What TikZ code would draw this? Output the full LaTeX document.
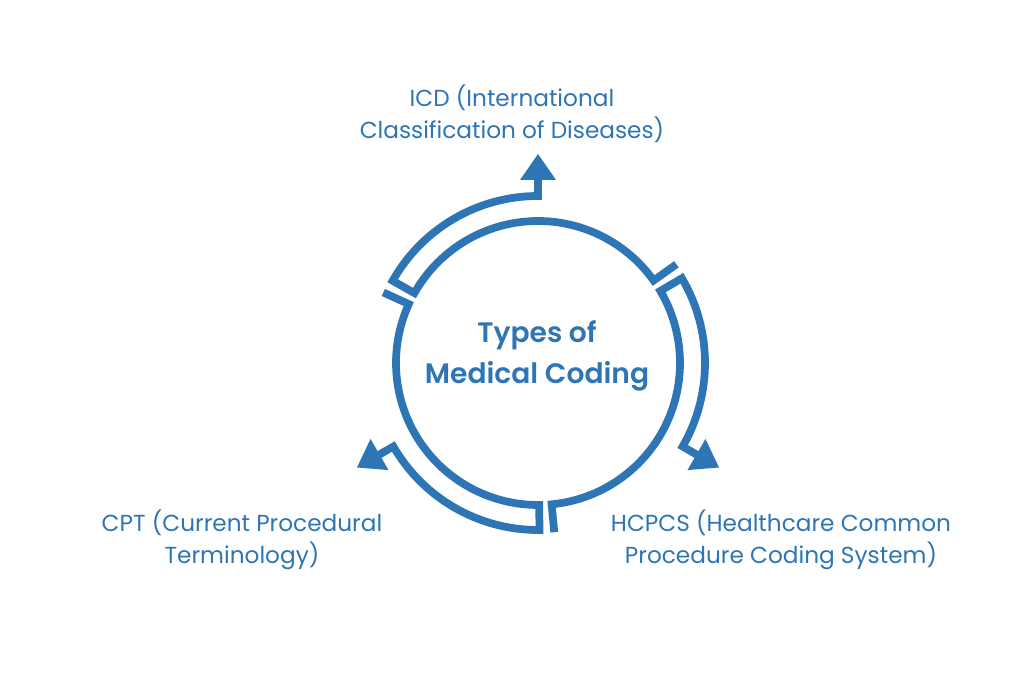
\documentclass[tikz,border=0pt]{standalone}
\usepackage{fontspec}
\setmainfont{Poppins}
\newfontfamily\titlefont{Poppins SemiBold}
\usepackage{xcolor}
\definecolor{codeblue}{RGB}{46,117,182}
\tikzset{
  band/.style={line width=5.5pt, draw=codeblue, line join=miter},
  tiphead/.style={fill=codeblue, draw=none},
  label/.style={text=codeblue, font=\fontsize{16.5}{22.5}\selectfont, align=center},
  title/.style={text=codeblue, font=\titlefont\fontsize{20}{28.8}\selectfont, align=center}
}

\begin{document}
\begin{tikzpicture}[x=0.025cm, y=0.025cm]
  \useasboundingbox (0,0) rectangle (1024,695);
  \def\rin{142} % inner ring
  \def\rout{167} % outer rim of each band
  \coordinate (C) at (538,332);

  % three hollow arrows round the ring
  \foreach \k in {0,1,2} {
    \begin{scope}[shift={(C)}, rotate={-120*\k}]
      \draw[band] (35.5:\rout+3) -- (35.5:\rin)
        arc[start angle=35.5, end angle=150.5, radius=\rin]
        -- (150.5:\rout)
        arc[start angle=150.5, end angle=90, radius=\rout]
        -- (0,\rout+17);
      \fill[tiphead] (0,\rout+42) -- (-18,\rout+16) -- (18,\rout+16) -- cycle;
    \end{scope}
  }

  % texts
  \node[title] (types) at (537,339) {Types of\\Medical Coding};
  \node[label] (icd) at (512,581) {ICD (International\\Classification of Diseases)};
  \node[label] (cpt) at (242,155) {CPT (Current Procedural\\Terminology)};
  \node[label] (hcpcs) at (781,155) {HCPCS (Healthcare Common\\Procedure Coding System)};
\end{tikzpicture}
\end{document}
